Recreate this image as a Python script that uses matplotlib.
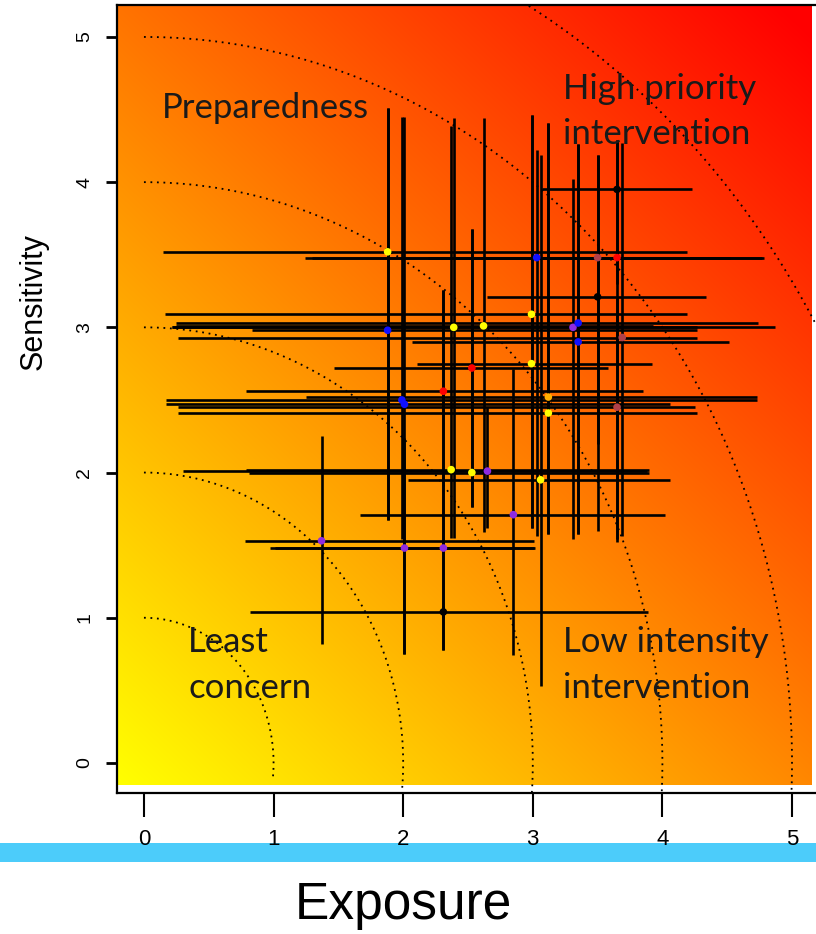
import numpy as np
import matplotlib
matplotlib.use("Agg")
import matplotlib.pyplot as plt
from matplotlib.patches import Rectangle

# ---- data ----
exp_mean = [1.37, 2.01, 2.31, 2.31, 2.65, 2.85, 2.37, 3.06, 2.39, 2.62, 2.53, 2.31, 1.88, 1.99, 2.99, 3.12,
            1.88, 3.03, 3.50, 3.65, 3.35, 3.31, 3.69, 3.65, 3.65, 3.50, 2.99, 3.35, 2.01, 3.12, 2.53]
sen_mean = [1.53, 1.48, 1.48, 1.04, 2.01, 1.71, 2.02, 1.95, 3.00, 3.01, 2.72, 2.56, 2.98, 2.50, 2.75, 2.52,
            3.52, 3.48, 3.48, 3.48, 2.90, 3.00, 2.93, 2.45, 3.95, 3.21, 3.09, 3.03, 2.47, 2.41, 2.00]
exp_lo = [0.78, 0.97, 1.01, 0.82, 0.30, 1.67, 0.79, 2.04, 0.22, 0.25, 1.47, 0.79, 0.83, 0.17, 2.11, 1.25,
          0.15, 1.30, 2.19, 1.24, 2.07, 0.22, 0.26, 0.26, 3.07, 2.65, 0.16, 0.25, 0.17, 0.26, 0.81]
exp_hi = [3.01, 3.02, 3.01, 3.89, 3.88, 4.02, 3.90, 4.06, 4.87, 3.93, 3.58, 3.85, 4.27, 4.73, 3.92, 4.73,
          4.19, 4.77, 4.78, 4.52, 4.51, 4.27, 4.27, 4.25, 4.23, 4.34, 4.19, 4.74, 4.06, 4.27, 3.90]
sen_lo = [0.82, 0.75, 0.78, 1.00, 1.62, 0.74, 1.55, 0.53, 1.55, 1.59, 1.76, 0.78, 1.67, 1.54, 1.62, 1.58,
          1.67, 1.56, 1.60, 1.52, 1.58, 1.54, 1.56, 1.54, 3.30, 2.20, 1.62, 1.58, 0.75, 1.58, 1.76]
sen_hi = [2.25, 2.24, 3.26, 1.08, 2.45, 2.71, 4.39, 4.19, 4.44, 4.44, 3.68, 3.26, 4.51, 4.45, 4.46, 4.41,
          4.51, 4.22, 4.19, 4.29, 4.26, 4.02, 4.27, 3.20, 4.29, 4.19, 4.46, 4.26, 4.45, 4.41, 3.68]
pt_colors = ["#8f2be0", "#8f2be0", "#8f2be0", "#000000", "#8f2be0", "#8f2be0", "#ffff00", "#ffff00",
             "#ffff00", "#ffff00", "#ff0000", "#ff0000", "#1010ff", "#1010ff", "#ffff00", "#ffb000",
             "#ffff00", "#1010ff", "#b0404a", "#ff0000", "#1010ff", "#8f2be0", "#b0404a", "#b0404a",
             "#000000", "#000000", "#ffff00", "#1010ff", "#1010ff", "#ffff00", "#ffff00"]

radii = [1, 2, 3, 4, 5, 6]
ticks = [0, 1, 2, 3, 4, 5]
zone_lines = ["Preparedness", "High priority", "intervention", "Least", "concern",
              "Low intensity", "intervention"]
zone_x = [0.14, 3.23, 3.23, 0.34, 0.34, 3.23, 3.23]
zone_y = [4.51, 4.64, 4.33, 0.83, 0.515, 0.83, 0.515]

W, H = 816, 934
fig = plt.figure(figsize=(W / 100, H / 100), dpi=100)

# blue band behind the x tick labels
band = Rectangle((0, (H - 862) / H), 1, 19 / H, transform=fig.transFigure,
                 facecolor="#4cccfa", edgecolor="none", zorder=-5)
fig.add_artist(band)

ax = fig.add_axes([117 / W, (H - 793) / H, (816 - 117) / W, (793 - 5) / H])
ax.set_zorder(2)
ax.patch.set_alpha(0)
xmin, xmax = -0.208, 5.185
ymin, ymax = -0.207, 5.22
ax.set_xlim(xmin, xmax)
ax.set_ylim(ymin, ymax)

# gradient background (yellow -> red)
gx0, gx1, gy0, gy1 = -0.20, 5.154, -0.152, 5.22
u = np.linspace(0, 1, 300)
v = np.linspace(0, 1, 300)
U, V = np.meshgrid(u, v)
g = np.clip(1 - (0.47 * U + 0.55 * V), 0, 1)
img = np.dstack([np.ones_like(g), g, np.zeros_like(g)])
ax.imshow(img, extent=[gx0, gx1, gy0, gy1], origin="lower", aspect="auto", zorder=0,
          interpolation="bilinear")

# dotted quarter circles
th = np.linspace(np.pi / 2, -np.pi / 30, 400)
for r in radii:
    ax.plot(r * np.cos(th), r * np.sin(th), color="black", lw=1.3,
            linestyle=(0, (1.0, 2.6)), zorder=2)

# error bars, then markers on top
ax.hlines(sen_mean, exp_lo, exp_hi, colors="black", lw=1.9, zorder=3)
ax.vlines(exp_mean, sen_lo, sen_hi, colors="black", lw=1.9, zorder=3)
ax.scatter(exp_mean, sen_mean, s=30, c=pt_colors, zorder=4, linewidths=0)

for lab, tx, ty in zip(zone_lines, zone_x, zone_y):
    ax.text(tx, ty, lab, ha="left", va="center", fontsize=25, family="Lato",
            color="#1a1a1a", zorder=5)

ax.set_xticks(ticks)
ax.set_yticks(ticks)
ax.set_xticklabels([str(t) for t in ticks], fontsize=16, family="Liberation Sans")
ax.set_yticklabels([str(t) for t in ticks], fontsize=14, family="Liberation Sans")
for lbl in ax.get_yticklabels():
    lbl.set_rotation(90)
    lbl.set_va("center")
ax.tick_params(axis="x", length=17, width=1.5, pad=9)
ax.tick_params(axis="y", length=8, width=2, pad=9)
for s in ["left", "bottom", "top"]:
    ax.spines[s].set_linewidth(1.6)
ax.spines["right"].set_visible(False)

fig.text(34 / W, (H - 302) / H, "Sensitivity", rotation=90, ha="center", va="center",
         fontsize=22, family="Liberation Sans")
fig.text(403 / W, (H - 906) / H, "Exposure", ha="center", va="center",
         fontsize=37, family="Liberation Sans")

fig.savefig("out.png", dpi=100)
